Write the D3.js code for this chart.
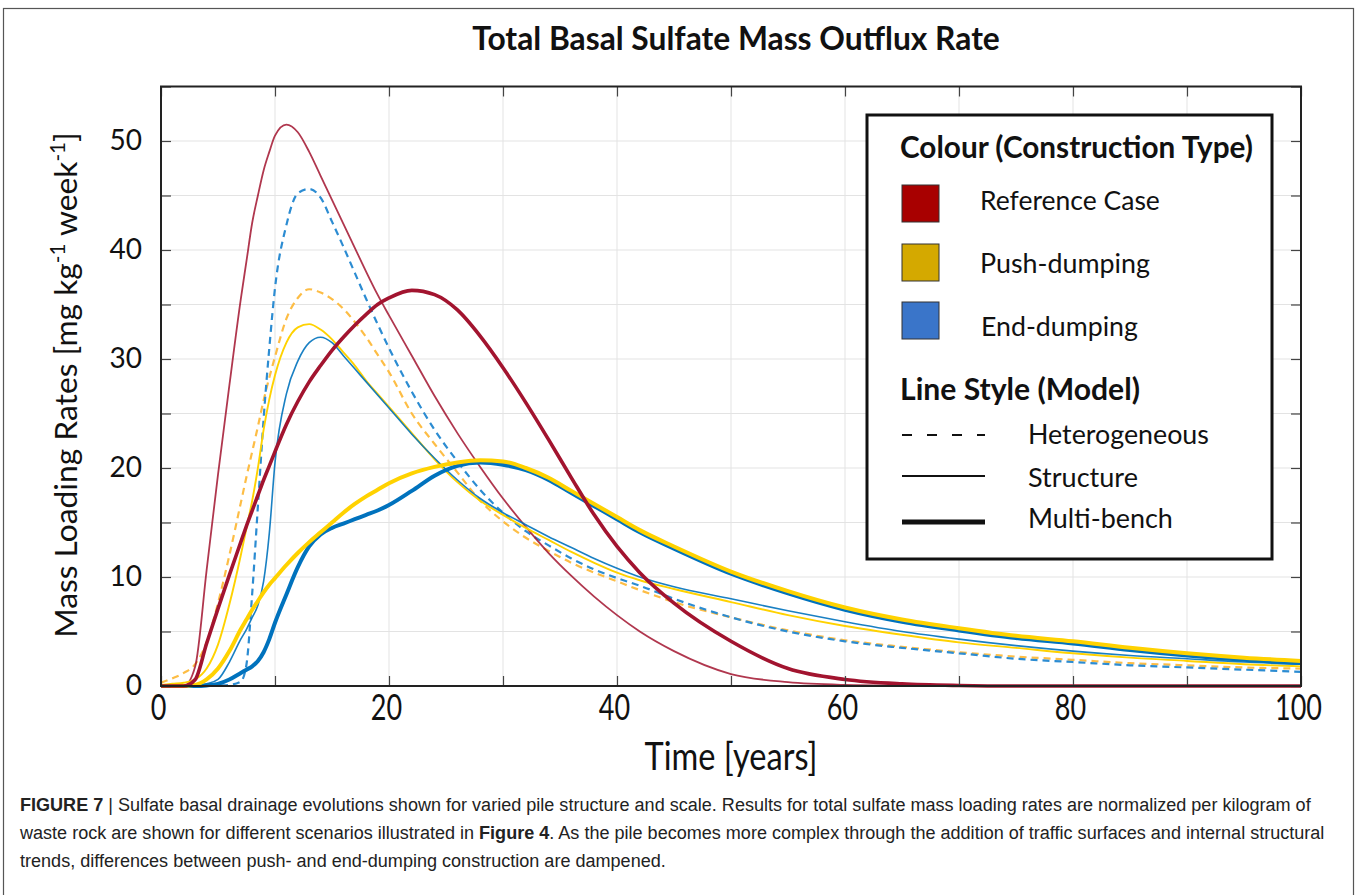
<!DOCTYPE html>
<html><head><meta charset="utf-8">
<script src="https://cdn.jsdelivr.net/npm/d3@7"></script>
<style>body{margin:0;background:#fff} svg{display:block}</style>
</head><body>
<svg id="c" width="1357" height="895"></svg>
<script>
// ---------- DATA ----------
const years = [0,1,2,3,4,5,6,7,7.5,8,8.5,9,9.5,10,11,12,13,14,15,16,17,18,19,20,22,24,26,28,30,32,34,36,38,40,42,45,50,55,60,65,70,75,80,85,90,95,100];

// Reference Case
const refStructure = [0,0,0,1.8,10.6,19.4,27.6,35.5,39,42.5,45,47.3,49,50.5,51.5,50.8,49,46.8,44.6,42.4,40.2,38,35.9,34,30.3,26.6,23.2,20.1,17.2,14.6,12.2,10.1,8.2,6.5,5.0,3.2,1.1,0.35,0.1,0.03,0,0,0,0,0,0,0];
const refMultiBench = [0,0,0,0.6,3.9,7.1,10.2,13.2,14.7,16.1,17.5,18.9,20.2,21.5,24,26.1,27.9,29.4,30.8,32,33.1,34.1,35,35.6,36.3,35.9,34.5,32.1,29.2,26,22.6,19.1,15.7,12.8,10.4,7.6,4.1,1.6,0.6,0.2,0.05,0,0,0,0,0,0];

// Push-dumping
const pushHeterogeneous = [0.3,0.7,1.2,2.0,4,7.6,12,16.8,19.2,21.5,23.8,26.2,28.3,30.2,33.7,35.6,36.4,36.1,35.5,34.6,33.4,32,30.4,28.8,25,22.2,19.6,17,15.1,13.6,12.4,11.3,10.4,9.6,8.8,7.7,6.3,5.1,4.2,3.6,3.1,2.7,2.4,2.1,1.9,1.7,1.6];
const pushStructure = [0.1,0.2,0.3,0.6,1.6,3.8,7.5,12,14.5,17,20,23.5,26.3,28.5,31.5,32.9,33.2,32.7,31.8,30.6,29.4,28,26.8,25.6,23.2,20.8,18.7,17,15.7,14.5,13.4,12.3,11.3,10.4,9.7,8.9,7.7,6.5,5.5,4.7,4.0,3.5,3.0,2.6,2.3,2.0,1.8];
const pushMultiBench = [0,0,0,0.1,0.6,1.6,3.2,5.2,6.1,7,7.8,8.6,9.3,9.9,11.1,12.2,13.2,14.1,15,15.9,16.7,17.4,18,18.6,19.5,20.1,20.5,20.7,20.6,20,19.1,17.9,16.7,15.5,14.3,12.8,10.5,8.7,7.2,6.1,5.3,4.6,4.1,3.5,3.0,2.6,2.3];

// End-dumping
const endHeterogeneous = [0,0,0,0,0,0.05,0.1,0.4,2,8.5,16.5,24.5,31,36.5,42.3,45.2,45.6,44.8,42.6,40.3,37.9,35.5,33.2,31,27,23.5,20.6,18,15.9,14.2,12.9,11.7,10.7,9.9,9.2,8,6.3,5.0,4.1,3.5,3.0,2.5,2.2,1.9,1.7,1.5,1.3];
const endStructure = [0,0,0,0.05,0.2,0.6,2.2,4.3,5.2,6.3,7.4,9.6,14,20.5,26.8,29.8,31.5,32,31.5,30.3,29.1,27.9,26.7,25.5,23.1,20.9,18.9,17.2,15.9,14.8,13.7,12.7,11.7,10.8,10,9.1,8,6.9,5.9,5.0,4.3,3.7,3.2,2.8,2.5,2.2,2.0];
const endMultiBench = [0,0,0,0,0.05,0.2,0.6,1.2,1.5,1.8,2.3,3.1,4.3,5.8,8.4,10.9,12.8,13.9,14.5,14.9,15.3,15.7,16.1,16.6,17.9,19.3,20.2,20.5,20.3,19.8,18.9,17.7,16.5,15.3,14.1,12.6,10.3,8.5,7.0,5.9,5.1,4.4,3.9,3.3,2.8,2.4,2.1];

const xTickValues = [0,10,20,30,40,50,60,70,80,90,100];
const xTickLabels = [0,20,40,60,80,100];
const yTickValues = [0,5,10,15,20,25,30,35,40,45,50,55];
const yTickLabels = [0,10,20,30,40,50];

const constructionTypes = ["Reference Case","Push-dumping","End-dumping"];
const modelStyles = ["Heterogeneous","Structure","Multi-bench"];

const titleText = "Total Basal Sulfate Mass Outflux Rate";
const xLabelText = "Time [years]";

// ---------- STYLES ----------
const FONT = "Lato, 'Open Sans', sans-serif";
const colRed = "#A2142F", colYel = "#FFD200", colYelDash = "#FDBD45", colBlue = "#0072BD", colBlueDash = "#2C8CD2";
const swatch = ["#A80000","#D4A900","#3A75C9"];

const series = [
  {v: pushHeterogeneous, c: colYelDash, w: 2.2, d: "7,5"},
  {v: endHeterogeneous, c: colBlueDash, w: 2.2, d: "7,5"},
  {v: refStructure, c: colRed, w: 1.8, d: null, o: 0.85},
  {v: pushStructure, c: colYel, w: 1.9, d: null},
  {v: endStructure, c: colBlue, w: 1.6, d: null, o: 0.9},
  {v: endMultiBench, c: colBlue, w: 4, d: null},
  {v: pushMultiBench, c: colYel, w: 4, d: null},
  {v: refMultiBench, c: colRed, w: 3.6, d: null},
];

const svg = d3.select("#c");
const x = d3.scaleLinear().domain([0,100]).range([161,1301]);
const y = d3.scaleLinear().domain([0,55]).range([686,86.5]);

// outer frame
svg.append("rect").attr("x",3.5).attr("y",8.5).attr("width",1350).attr("height",900)
  .attr("fill","none").attr("stroke","#555").attr("stroke-width",1.2);

function fitW(t, w){
  const cur = t.node().getComputedTextLength();
  const fs = parseFloat(t.attr("font-size"));
  t.attr("font-size", fs*w/cur);
  return t;
}

// title
fitW(svg.append("text").attr("x",736).attr("y",50).attr("text-anchor","middle")
  .attr("font-family",FONT).attr("font-weight","bold").attr("font-size",30).attr("fill","#111")
  .text(titleText), 528);

// grid
const g = svg.append("g");
g.selectAll("line.vg").data(xTickValues).join("line")
  .attr("x1",d=>x(d)).attr("x2",d=>x(d)).attr("y1",y(55)).attr("y2",y(0))
  .attr("stroke","#e3e3e3").attr("stroke-width",1);
g.selectAll("line.hg").data(yTickValues).join("line")
  .attr("y1",d=>y(d)).attr("y2",d=>y(d)).attr("x1",x(0)).attr("x2",x(100))
  .attr("stroke","#e3e3e3").attr("stroke-width",1);

// lines
svg.append("clipPath").attr("id","clip").append("rect")
  .attr("x",x(0)).attr("y",y(55)).attr("width",x(100)-x(0)).attr("height",y(0)-y(55)+2);
const line = d3.line().x((d,i)=>x(years[i])).y(d=>y(d)).curve(d3.curveMonotoneX);
const lg = svg.append("g").attr("clip-path","url(#clip)");
series.forEach(s=>{
  lg.append("path").attr("d",line(s.v)).attr("fill","none").attr("stroke",s.c)
    .attr("stroke-width",s.w).attr("stroke-dasharray",s.d).attr("stroke-opacity",s.o||1)
    .attr("stroke-linejoin","round");
});

// axes
const axB = d3.axisBottom(x).tickValues(xTickValues).tickSize(-10).tickPadding(10)
  .tickFormat(d => xTickLabels.includes(d) ? d : "");
const axT = d3.axisTop(x).tickValues(xTickValues).tickSize(-10).tickFormat("");
const axL = d3.axisLeft(y).tickValues(yTickValues).tickSize(-10).tickPadding(19)
  .tickFormat(d => yTickLabels.includes(d) ? d : "");
const axR = d3.axisRight(y).tickValues(yTickValues).tickSize(-10).tickFormat("");

function styleAxis(sel){
  sel.selectAll(".tick line").attr("stroke","#444").attr("stroke-width",1.2);
  sel.select(".domain").remove();
  sel.selectAll("text").attr("font-family",FONT).attr("fill","#111");
}
const gB = svg.append("g").attr("transform",`translate(0,${y(0)})`).call(axB); styleAxis(gB);
gB.selectAll("text").attr("font-size",27).attr("dy",null)
  .attr("transform","translate(-3,34) scale(1,1.38)").attr("y",0);
const gT = svg.append("g").attr("transform",`translate(0,${y(55)})`).call(axT); styleAxis(gT);
const gL = svg.append("g").attr("transform",`translate(${x(0)},0)`).call(axL); styleAxis(gL);
gL.selectAll("text").attr("font-size",28);
const gR = svg.append("g").attr("transform",`translate(${x(100)},0)`).call(axR); styleAxis(gR);

// plot border
svg.append("rect").attr("x",x(0)).attr("y",y(55)).attr("width",x(100)-x(0)).attr("height",y(0)-y(55))
  .attr("fill","none").attr("stroke","#222").attr("stroke-width",2);

// axis labels
const xl = svg.append("text").attr("text-anchor","middle").attr("font-family",FONT)
  .attr("font-size",32).attr("fill","#111").text(xLabelText);
fitW(xl, 173);
xl.attr("transform","translate(731,770) scale(1,1.2)");

const yl = svg.append("text").attr("text-anchor","middle").attr("font-family",FONT)
  .attr("font-size",32).attr("fill","#111").attr("transform","translate(77,385) rotate(-90)");
yl.append("tspan").text("Mass Loading Rates [mg kg");
yl.append("tspan").attr("baseline-shift","super").attr("font-size","65%").text("-1");
yl.append("tspan").text(" week");
yl.append("tspan").attr("baseline-shift","super").attr("font-size","65%").text("-1");
yl.append("tspan").text("]");
fitW(yl, 506);

// legend
const L = svg.append("g");
L.append("rect").attr("x",867).attr("y",115).attr("width",405).attr("height",444)
  .attr("fill","#fff").attr("stroke","#111").attr("stroke-width",3);
fitW(L.append("text").attr("x",900).attr("y",158).attr("font-family",FONT).attr("font-weight","bold")
  .attr("font-size",28).attr("fill","#111").text("Colour (Construction Type)"), 353);
const swY = [185,244,302], swTxtY = [210,273,336], swTxtX = [980,980,981], swTxtW = [180,170,157];
constructionTypes.forEach((t,i)=>{
  L.append("rect").attr("x",902).attr("y",swY[i]).attr("width",37).attr("height",37)
    .attr("fill",swatch[i]).attr("stroke","#333").attr("stroke-width",1);
  fitW(L.append("text").attr("x",swTxtX[i]).attr("y",swTxtY[i]).attr("font-family",FONT)
    .attr("font-size",25).attr("fill","#111").text(t), swTxtW[i]);
});
fitW(L.append("text").attr("x",900).attr("y",400).attr("font-family",FONT).attr("font-weight","bold")
  .attr("font-size",28).attr("fill","#111").text("Line Style (Model)"), 240);
const stY = [435,476,522], stW = [2.2,2,5], stDash = ["10,15",null,null], stTxtY = [444,487,528], stTxtW = [181,110,145];
modelStyles.forEach((t,i)=>{
  L.append("line").attr("x1",902).attr("x2",985).attr("y1",stY[i]).attr("y2",stY[i])
    .attr("stroke","#111").attr("stroke-width",stW[i]).attr("stroke-dasharray",stDash[i]);
  fitW(L.append("text").attr("x",1028).attr("y",stTxtY[i]).attr("font-family",FONT)
    .attr("font-size",25).attr("fill","#111").text(t), stTxtW[i]);
});

// caption
const CF = "'Liberation Sans', Arial, sans-serif";
const cap = svg.append("g").attr("font-family",CF).attr("fill","#222");
const c1 = cap.append("text").attr("x",20).attr("y",811).attr("font-size",16);
c1.append("tspan").attr("font-weight","bold").text("FIGURE 7");
c1.append("tspan").text(" | Sulfate basal drainage evolutions shown for varied pile structure and scale. Results for total sulfate mass loading rates are normalized per kilogram of");
fitW(c1, 1291);
const fsCap = c1.attr("font-size");
const c2 = cap.append("text").attr("x",20).attr("y",839).attr("font-size",fsCap);
c2.append("tspan").text("waste rock are shown for different scenarios illustrated in ");
c2.append("tspan").attr("font-weight","bold").text("Figure 4");
c2.append("tspan").text(". As the pile becomes more complex through the addition of traffic surfaces and internal structural");
cap.append("text").attr("x",20).attr("y",867).attr("font-size",fsCap)
  .text("trends, differences between push- and end-dumping construction are dampened.");
</script>
</body></html>
